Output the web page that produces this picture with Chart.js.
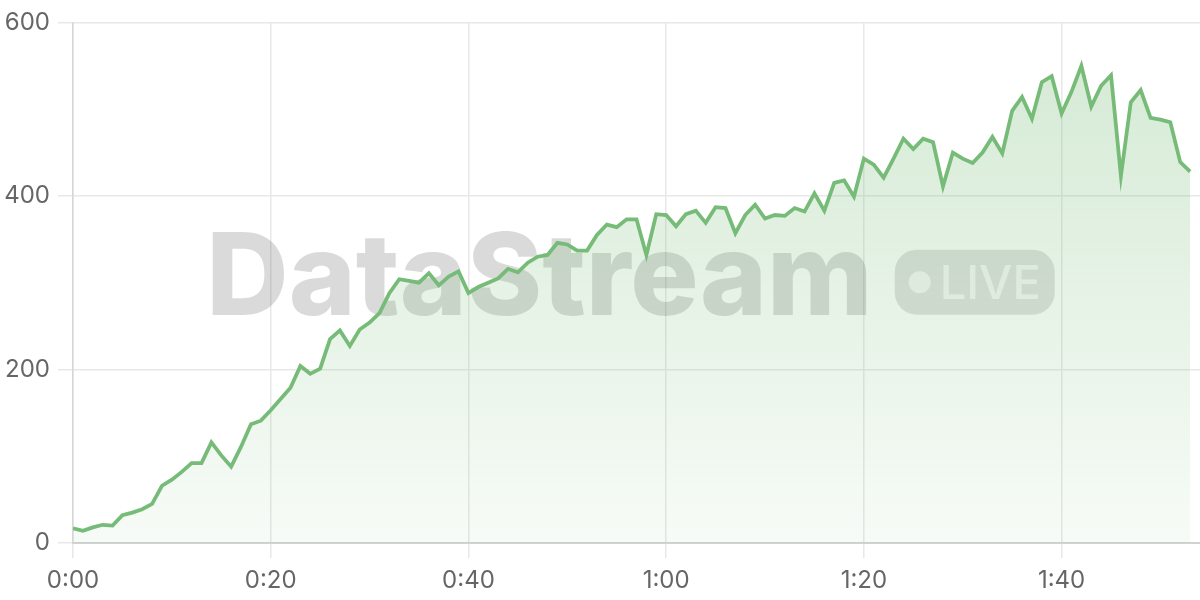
<!DOCTYPE html>
<html>
<head>
<meta charset="utf-8">
<script src="https://cdn.jsdelivr.net/npm/chart.js@4.4.1/dist/chart.umd.min.js"></script>
<style>
html,body{margin:0;padding:0;background:#fff;}
#wrap{width:1200px;height:600px;position:relative;}
</style>
</head>
<body>
<div id="wrap"><canvas id="c" width="1200" height="600"></canvas></div>
<script>
// elapsed time in seconds for each sample
const seconds = [
  0,1,2,3,4,5,6,7,8,9,10,11,12,13,14,15,16,17,18,19,
  20,21,22,23,24,25,26,27,28,29,30,31,32,33,34,35,36,37,38,39,
  40,41,42,43,44,45,46,47,48,49,50,51,52,53,54,55,56,57,58,59,
  60,61,62,63,64,65,66,67,68,69,70,71,72,73,74,75,76,77,78,79,
  80,81,82,83,84,85,86,87,88,89,90,91,92,93,94,95,96,97,98,99,
  100,101,102,103,104,105,106,107,108,109,110,111,112,113
];
const values = [
  17,14,18,21,20,32,35,39,45,66,73,82,92,92,116,101,88,111,137,141,
  153,166,179,204,195,201,235,245,227,246,254,265,288,304,302,300,311,297,307,313,
  288,295,300,305,316,312,323,330,332,346,344,337,337,355,367,364,373,373,332,379,
  378,365,379,383,369,387,386,357,378,390,374,378,377,386,382,403,383,415,418,399,
  443,436,421,443,466,454,466,462,411,450,443,438,450,468,449,498,514,489,531,538,
  495,520,550,503,527,539,423,508,522,490,488,485,439,428
];
const xTickStep = 20;
const xMax = 114;
const yTicks = [0, 200, 400, 600];
const watermarkTitle = 'DataStream';
const watermarkBadge = 'LIVE';

function fmtTime(s) {
  return Math.floor(s / 60) + ':' + String(s % 60).padStart(2, '0');
}

const lineColor = '#76bb77';
const tickFont = {size: 24, family: 'Inter, "Liberation Sans", sans-serif'};

const watermark = {
  id: 'watermark',
  beforeDatasetsDraw(chart) {
    const {ctx, chartArea} = chart;
    ctx.save();
    ctx.font = '800 114px Inter, "Liberation Sans", sans-serif';
    const tw = ctx.measureText(watermarkTitle).width;
    const gap = 22;
    const bw = 160, bh = 65, br = 22;
    const total = tw + gap + bw;
    const cx = (chartArea.left + chartArea.right) / 2 - 6;
    const cy = (chartArea.top + chartArea.bottom) / 2;
    const x0 = cx - total / 2;
    const baseline = cy + 32;
    ctx.fillStyle = 'rgba(0,0,0,0.145)';
    ctx.textBaseline = 'alphabetic';
    ctx.fillText(watermarkTitle, x0, baseline);
    // badge
    const bx = x0 + tw + gap, by = baseline - bh;
    ctx.beginPath();
    ctx.roundRect(bx, by, bw, bh, br);
    ctx.fillStyle = 'rgba(0,0,0,0.12)';
    ctx.fill();
    ctx.fillStyle = 'rgba(255,255,255,0.7)';
    ctx.beginPath();
    ctx.arc(bx + 25, by + bh / 2, 11, 0, Math.PI * 2);
    ctx.fill();
    ctx.font = '500 47px Inter, "Liberation Sans", sans-serif';
    ctx.fillText(watermarkBadge, bx + 45, by + 49);
    ctx.restore();
  }
};

const ctx = document.getElementById('c').getContext('2d');
new Chart(ctx, {
  type: 'line',
  data: {
    datasets: [{
      data: seconds.map((s, i) => ({x: s, y: values[i]})),
      borderColor: lineColor,
      borderWidth: 3.75,
      pointRadius: 0,
      tension: 0,
      fill: 'origin',
      backgroundColor(context) {
        const ca = context.chart.chartArea;
        if (!ca) return 'rgba(118,187,119,0.15)';
        const g = context.chart.ctx.createLinearGradient(0, ca.top, 0, ca.bottom);
        g.addColorStop(0, 'rgba(118,187,119,0.32)');
        g.addColorStop(1, 'rgba(118,187,119,0.06)');
        return g;
      }
    }]
  },
  options: {
    responsive: false,
    animation: false,
    devicePixelRatio: 1,
    layout: {padding: {left: 0, top: 0, right: 0, bottom: 0}},
    plugins: {legend: {display: false}, tooltip: {enabled: false}},
    scales: {
      x: {
        type: 'linear',
        min: 0,
        max: xMax,
        afterBuildTicks(axis) {
          axis.ticks = axis.ticks.filter(t => t.value % xTickStep === 0);
        },
        afterFit(axis) { axis.height = 57; },
        ticks: {
          stepSize: xTickStep,
          callback: v => fmtTime(v),
          color: '#666',
          font: tickFont,
          padding: 8,
          maxRotation: 0
        },
        grid: {color: '#e8e8e8', tickLength: 15, lineWidth: 1.5},
        border: {color: '#cfd3d1', width: 2}
      },
      y: {
        min: 0,
        max: 600,
        afterBuildTicks(axis) {
          axis.ticks = yTicks.map(v => ({value: v}));
        },
        afterFit(axis) { axis.width = 73; },
        ticks: {
          color: '#666',
          font: tickFont,
          padding: 8
        },
        grid: {color: '#e8e8e8', tickLength: 15, lineWidth: 1.5},
        border: {color: '#d6d6d6', width: 1.5}
      }
    }
  },
  plugins: [watermark]
});
</script>
</body>
</html>
